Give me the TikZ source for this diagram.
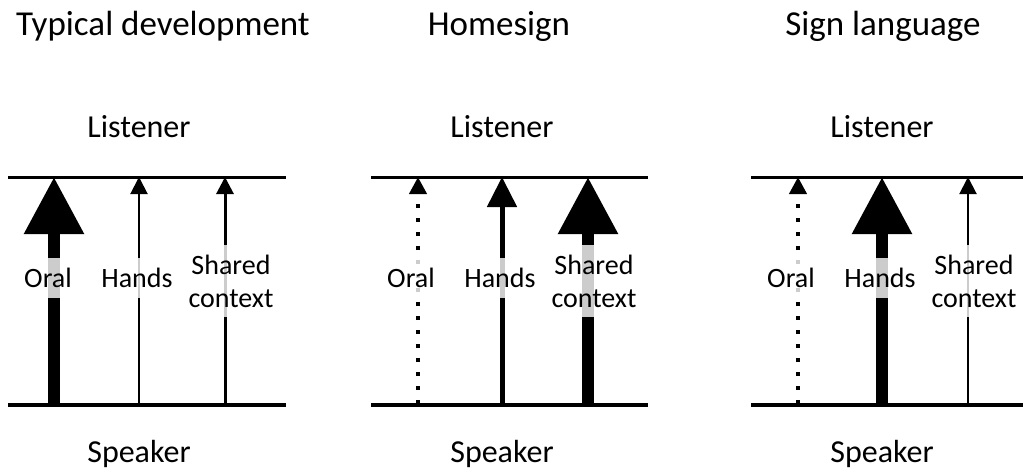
\documentclass[tikz,border=0pt]{standalone}
\usepackage{fontspec}
\setmainfont{Carlito}
\usetikzlibrary{arrows.meta}

\tikzset{
  heavy/.style={line width=12pt, -{Triangle[width=57pt,length=57pt]}},
  medium/.style={line width=5pt, -{Triangle[width=29pt,length=30pt]}},
  light/.style={line width=2pt, -{Triangle[width=17pt,length=17pt]}},
  lightish/.style={line width=3pt, -{Triangle[width=17pt,length=17pt]}},
  dotted arrow/.style={line width=4pt, dash pattern=on 4pt off 10pt, -{Triangle[width=17pt,length=17pt]}},
  lbl/.style={font=\fontsize{28}{33}\selectfont, align=center, fill=white, fill opacity=0.8, text opacity=1, inner xsep=4pt, inner ysep=10pt},
  title/.style={font=\fontsize{35}{40}\selectfont, anchor=base},
  role/.style={font=\fontsize{32}{36}\selectfont, anchor=base},
}

\begin{document}
\begin{tikzpicture}[x=1pt,y=-1pt]
  \useasboundingbox (0,0) rectangle (1023,475);

  % panel titles
  \node[title] (t1) at (163,35) {Typical development};
  \node[title] (t2) at (499,35) {Homesign};
  \node[title] (t3) at (883,35) {Sign language};

  % listener / speaker lines
  \draw[line width=3pt] (8,177) -- (286,177);
  \draw[line width=3pt] (371,177) -- (648,177);
  \draw[line width=3pt] (751,177) -- (1023,177);
  \draw[line width=4pt] (8,405) -- (286,405);
  \draw[line width=4pt] (371,405) -- (648,405);
  \draw[line width=4pt] (751,405) -- (1023,405);

  \foreach \p/\xo/\xh/\xs in {1/54/139/225, 2/418/502/588, 3/798/882/968}{
    \coordinate (oral\p b) at (\xo,404);  \coordinate (oral\p t) at (\xo,177);
    \coordinate (hands\p b) at (\xh,404); \coordinate (hands\p t) at (\xh,177);
    \coordinate (ctx\p b) at (\xs,404);   \coordinate (ctx\p t) at (\xs,177);
    \node[role] (lis\p) at (\xh,137) {Listener};
    \node[role] (spk\p) at (\xh,462) {Speaker};
  }

  % typical development
  \draw[heavy] (oral1b) -- (oral1t);
  \draw[light] (hands1b) -- (hands1t);
  \draw[lightish] (ctx1b) -- (ctx1t);
  % homesign
  \draw[dotted arrow] (oral2b) -- (oral2t);
  \draw[medium] (hands2b) -- (hands2t);
  \draw[heavy] (ctx2b) -- (ctx2t);
  % sign language
  \draw[dotted arrow] (oral3b) -- (oral3t);
  \draw[heavy] (hands3b) -- (hands3t);
  \draw[light] (ctx3b) -- (ctx3t);

  % channel labels
  \node[lbl] (o1) at (48,278) {Oral};
  \node[lbl] (h1) at (137,278) {Hands};
  \node[lbl] (c1) at (231,281) {Shared\\context};
  \node[lbl] (o2) at (411,278) {Oral};
  \node[lbl] (h2) at (500,278) {Hands};
  \node[lbl] (c2) at (594,281) {Shared\\context};
  \node[lbl] (o3) at (791,278) {Oral};
  \node[lbl] (h3) at (880,278) {Hands};
  \node[lbl] (c3) at (974,281) {Shared\\context};
\end{tikzpicture}
\end{document}
